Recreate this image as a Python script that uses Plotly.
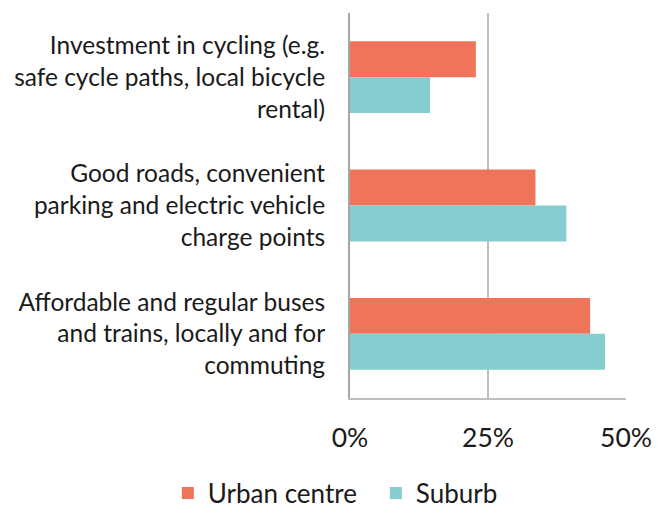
import plotly.graph_objects as go

categories = [
    "Investment in cycling (e.g.<br>safe cycle paths, local bicycle<br>rental)",
    "Good roads, convenient<br>parking and electric vehicle<br>charge points",
    "Affordable and regular buses<br>and trains, locally and for<br>commuting",
]
urban = [0.228, 0.336, 0.435]
suburb = [0.145, 0.392, 0.462]
tick_vals = [0, 0.25, 0.5]
tick_text = ["0%", "25%", "50%"]

fig = go.Figure()
fig.add_trace(go.Bar(y=categories, x=urban, name="Urban centre", orientation="h",
                     marker=dict(color="#EF7459", line=dict(width=0))))
fig.add_trace(go.Bar(y=categories, x=suburb, name="Suburb", orientation="h",
                     marker=dict(color="#86CDD0", line=dict(width=0))))

fig.update_layout(
    width=664, height=507,
    margin=dict(l=350, r=38, t=13, b=109, autoexpand=False),
    paper_bgcolor="white", plot_bgcolor="white",
    font=dict(family="Lato, sans-serif", color="#1a1a1a"),
    barmode="group", bargap=0.44, bargroupgap=0,
    showlegend=True,
    legend=dict(orientation="h", x=-0.66, xref="paper", xanchor="left",
                y=-0.247, yref="paper", yanchor="middle",
                font=dict(size=26), itemwidth=30, tracegroupgap=0,
                entrywidth=163, entrywidthmode="pixels"),
    xaxis=dict(range=[0, 0.5], tickvals=tick_vals, ticktext=tick_text,
               showgrid=True, gridcolor="#BFBFBF", gridwidth=1.5,
               showline=True, linecolor="#BFBFBF", linewidth=1.5,
               ticks="outside", ticklen=15, tickcolor="rgba(0,0,0,0)",
               tickfont=dict(size=26.5), zeroline=False, fixedrange=True,
               automargin=False),
    yaxis=dict(autorange="reversed", showline=True, linecolor="#A6A6A6", linewidth=2,
               ticks="outside", ticklen=18, tickcolor="rgba(0,0,0,0)",
               tickfont=dict(size=24.5), showgrid=False, automargin=False),
)

fig.write_html("out.html", config={"displayModeBar": False},
               post_script="document.body.style.margin='0';")
